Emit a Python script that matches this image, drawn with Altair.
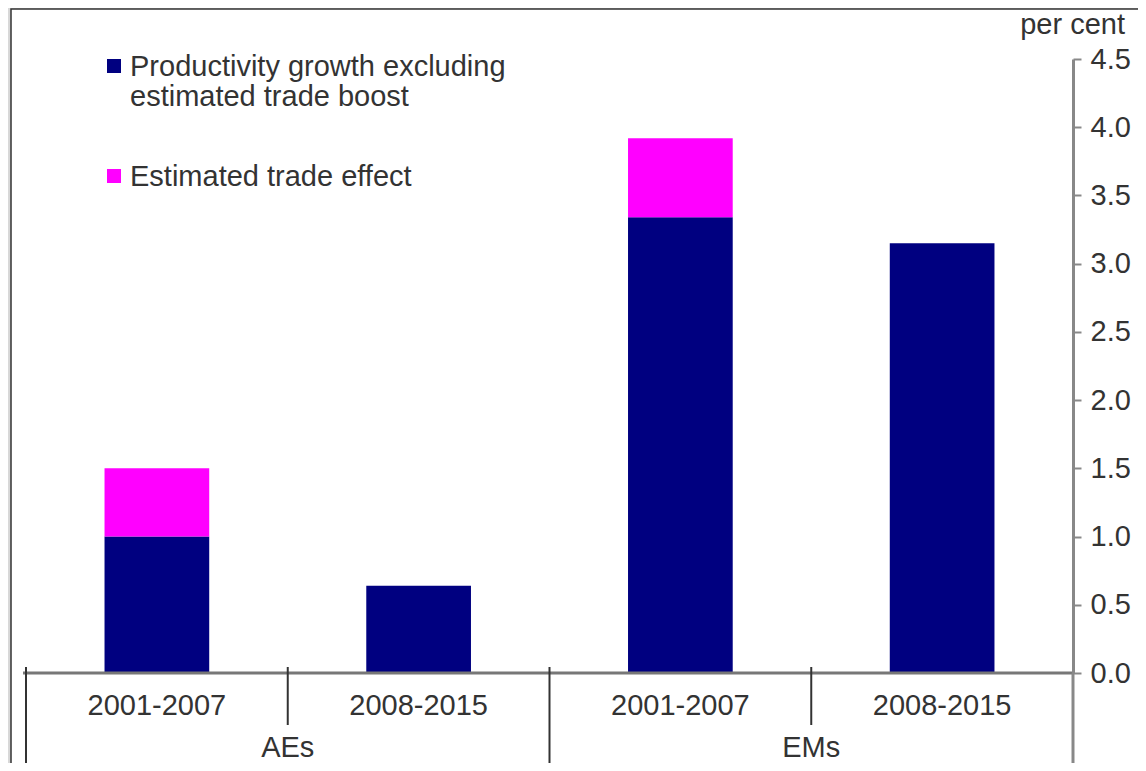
import altair as alt
import pandas as pd

# ---- data ----
groups = ["AEs", "AEs", "EMs", "EMs"]
periods = ["2001-2007", "2008-2015", "2001-2007", "2008-2015"]
base_growth = [1.0, 0.64, 3.34, 3.15]
trade_effect = [0.5, 0.0, 0.58, 0.0]
series = ["Productivity growth excluding estimated trade boost", "Estimated trade effect"]
legend_labels = ["Productivity growth excluding\nestimated trade boost", "Estimated trade effect"]
series_colors = ["#000080", "#ff00ff"]
group_names = ["AEs", "EMs"]
period_names = ["2001-2007", "2008-2015"]
y_ticks = [0.0, 0.5, 1.0, 1.5, 2.0, 2.5, 3.0, 3.5, 4.0, 4.5]

rows = []
for g, p, b, t in zip(groups, periods, base_growth, trade_effect):
    rows.append({"group": g, "period": p, "series": series[0], "value": b, "ord": 0})
    rows.append({"group": g, "period": p, "series": series[1], "value": t, "ord": 1})
df = pd.DataFrame(rows)
cats = pd.DataFrame({"group": groups, "period": periods})
grp = pd.DataFrame({"group": group_names})
one = pd.DataFrame({"a": [0]})

W, H = 1047, 614
FONT = "Liberation Sans"
FS = 29
TXT = "#333333"

xscale = alt.Scale(domain=group_names, paddingInner=0, paddingOuter=0)
xoffscale = alt.Scale(domain=period_names, paddingInner=0.6, paddingOuter=0.3)
yscale = alt.Scale(domain=[0, 4.5], nice=False, zero=True)
cscale = alt.Scale(domain=series, range=series_colors)

frame = alt.Chart(one).mark_rect(fill="white", stroke="#333333", strokeWidth=1.5).encode(
    x=alt.value(-15), x2=alt.value(W + 120), y=alt.value(-50), y2=alt.value(H + 120)
)

bars = alt.Chart(df).mark_bar().encode(
    x=alt.X("group:N", scale=xscale, axis=None),
    xOffset=alt.XOffset("period:N", scale=xoffscale),
    y=alt.Y("value:Q", stack="zero", scale=yscale,
            axis=alt.Axis(orient="right", values=y_ticks, format=".1f", title=None, grid=False,
                          labelFont=FONT, labelFontSize=FS, labelColor=TXT, labelFlush=False,
                          labelOverlap=False, labelPadding=9, domainColor="#888888", domainWidth=3,
                          tickColor="#888888", tickWidth=2, tickSize=8, zindex=2)),
    color=alt.Color("series:N", scale=cscale, legend=None),
    order=alt.Order("ord:Q", sort="ascending"),
)

baseline = alt.Chart(one).mark_rule(color="#777777", strokeWidth=3).encode(
    x=alt.value(-3), x2=alt.value(W), y=alt.value(H)
)
yext = alt.Chart(one).mark_rule(color="#888888", strokeWidth=3).encode(
    x=alt.value(W), y=alt.value(H), y2=alt.value(H + 120)
)

long_sep = alt.Chart(grp).mark_rule(color="#333333", strokeWidth=2).encode(
    x=alt.X("group:N", scale=xscale, axis=None, bandPosition=0),
    y=alt.value(H - 6), y2=alt.value(H + 120)
)
short_sep = alt.Chart(grp).mark_rule(color="#333333", strokeWidth=2).encode(
    x=alt.X("group:N", scale=xscale, axis=None, bandPosition=0.5),
    y=alt.value(H - 6), y2=alt.value(H + 52)
)

period_lbl = alt.Chart(cats).mark_text(font=FONT, fontSize=FS, color=TXT, baseline="alphabetic").encode(
    x=alt.X("group:N", scale=xscale, axis=None),
    xOffset=alt.XOffset("period:N", scale=xoffscale),
    y=alt.value(H + 42),
    text="period:N",
)
group_lbl = alt.Chart(grp).mark_text(font=FONT, fontSize=FS, color=TXT, baseline="alphabetic").encode(
    x=alt.X("group:N", scale=xscale, axis=None),
    y=alt.value(H + 84),
    text="group:N",
)

unit = alt.Chart(one).mark_text(font=FONT, fontSize=FS, color=TXT, align="right",
                                baseline="alphabetic", text="per cent").encode(
    x=alt.value(W + 52), y=alt.value(-25)
)

leg_df = pd.DataFrame({"series": series, "label": legend_labels})
leg_y = [7, 117]
legend_layers = []
for s, yy in zip(series, leg_y):
    sub = alt.Chart(leg_df).transform_filter(alt.datum.series == s)
    legend_layers.append(
        sub.mark_square(size=196, opacity=1, filled=True).encode(
            x=alt.value(88), y=alt.value(yy),
            color=alt.Color("series:N", scale=cscale, legend=None),
        )
    )
    legend_layers.append(
        sub.mark_text(font=FONT, fontSize=FS, color=TXT, align="left", baseline="alphabetic",
                      lineBreak="\n", lineHeight=30).encode(
            x=alt.value(104), y=alt.value(yy + 10), text="label:N"
        )
    )

chart = alt.layer(
    frame, bars, baseline, yext, long_sep, short_sep, period_lbl, group_lbl, unit, *legend_layers
).properties(
    width=W, height=H, autosize="none", background="#d8d8d8",
    padding={"left": 18, "top": 51, "right": 65, "bottom": 90},
).configure_view(stroke=None)

chart.save("out.html", embed_options={"renderer": "svg", "actions": False})
